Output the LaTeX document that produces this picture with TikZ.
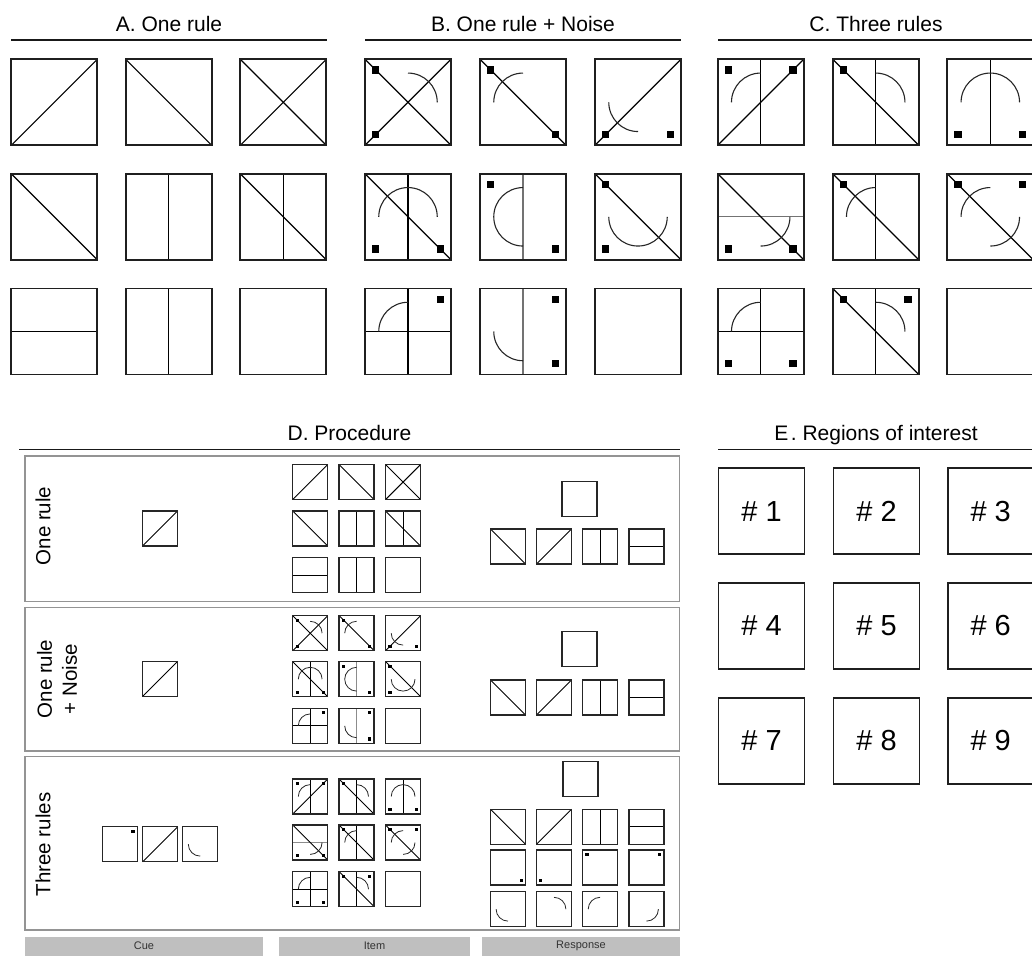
\documentclass[tikz,border=0pt]{standalone}
\usepackage{fontspec}
\setmainfont{Liberation Sans}
% ---------- cell helpers ----------
\def\sqh{0.042}
\newcommand{\lnS}{\draw[inner] (0,1) -- (1,0);}
\newcommand{\lnB}{\draw[inner] (0,0) -- (1,1);}
\newcommand{\lnV}{\draw[inner] (0.5,0) -- (0.5,1);}
\newcommand{\lnVg}{\draw[innerg] (0.5,0) -- (0.5,1);}
\newcommand{\lnH}{\draw[inner] (0,0.5) -- (1,0.5);}
\newcommand{\lnHg}{\draw[innerg] (0,0.5) -- (1,0.5);}
\newcommand{\arq}[2]{\draw[arcl] ({0.5+0.34*cos(#1)},{0.5+0.34*sin(#1)}) arc[start angle=#1,end angle=#2,radius=0.34];}
\newcommand{\sq}[2]{\fill[sqfill] ({#1-\sqh},{#2-\sqh}) rectangle ({#1+\sqh},{#2+\sqh});}
\newcommand{\cell}[5]{\begin{scope}[shift={(#1,#2)},x=#3pt,y=-#3pt,#4]#5\draw[frame] (0,0) rectangle (1,1);\end{scope}}
\newcommand{\bigcell}[3]{\cell{#1}{#2}{86}{}{#3}}
\newcommand{\smallcell}[3]{\cell{#1}{#2}{35}{inner/.style={draw=black,line width=0.9pt},innerg/.style={draw=black!45,line width=0.9pt},arcl/.style={draw=black!85,line width=0.8pt},frame/.style={draw=black!85,line width=1.4pt}}{\def\sqh{0.045}#3}}
\def\defpat#1#2{\expandafter\def\csname pat#1\endcsname{#2}}
\def\pat#1{\csname pat#1\endcsname}
% ---------- patterns ----------
\defpat{A1}{\lnS}
\defpat{A2}{\lnB}
\defpat{A3}{\lnS\lnB}
\defpat{A4}{\lnB}
\defpat{A5}{\lnV}
\defpat{A6}{\lnB\lnV}
\defpat{A7}{\lnH}
\defpat{A8}{\lnV}
\defpat{A9}{}
\defpat{B1}{\lnS\lnB\arq{270}{360}\sq{.125}{.125}\sq{.125}{.875}}
\defpat{B2}{\lnB\arq{180}{270}\sq{.125}{.125}\sq{.875}{.875}}
\defpat{B3}{\lnS\arq{90}{180}\sq{.125}{.875}\sq{.875}{.875}}
\defpat{B4}{\lnV\lnB\arq{180}{360}\sq{.125}{.875}\sq{.875}{.875}}
\defpat{B5}{\lnVg\arq{90}{270}\sq{.125}{.125}\sq{.875}{.875}}
\defpat{B6}{\lnB\arq{0}{180}\sq{.125}{.125}\sq{.125}{.875}}
\defpat{B7}{\lnV\lnH\arq{180}{270}\sq{.875}{.125}}
\defpat{B8}{\lnVg\arq{90}{180}\sq{.875}{.125}\sq{.875}{.875}}
\defpat{B9}{}
\defpat{C1}{\lnV\lnS\arq{180}{270}\sq{.125}{.125}\sq{.875}{.125}}
\defpat{C2}{\lnV\lnB\arq{270}{360}\sq{.125}{.125}}
\defpat{C3}{\lnV\arq{180}{360}\sq{.125}{.875}\sq{.875}{.875}}
\defpat{C4}{\lnHg\lnB\arq{0}{90}\sq{.125}{.875}\sq{.875}{.875}}
\defpat{C5}{\lnV\lnB\arq{180}{270}\sq{.125}{.125}}
\defpat{C6}{\lnB\arq{180}{270}\arq{0}{90}\sq{.125}{.125}\sq{.875}{.125}}
\defpat{C7}{\lnV\lnH\arq{180}{270}\sq{.125}{.875}\sq{.875}{.875}}
\defpat{C8}{\lnV\lnB\arq{270}{360}\sq{.125}{.125}\sq{.875}{.125}}
\defpat{C9}{}
\defpat{R1}{\lnB}
\defpat{R2}{\lnS}
\defpat{R3}{\lnV}
\defpat{R4}{\lnH}
\defpat{R5}{\sq{.875}{.875}}
\defpat{R6}{\sq{.125}{.875}}
\defpat{R7}{\sq{.125}{.125}}
\defpat{R8}{\sq{.875}{.125}}
\defpat{R9}{\arq{90}{180}}
\defpat{R10}{\arq{270}{360}}
\defpat{R11}{\arq{180}{270}}
\defpat{R12}{\arq{0}{90}}
\begin{document}
\begin{tikzpicture}[x=1pt,y=-1pt,
  frame/.style={draw=black!88,line width=1.7pt},
  inner/.style={draw=black,line width=1.2pt},
  innerg/.style={draw=black!55,line width=1.2pt},
  arcl/.style={draw=black!85,line width=1.1pt},
  sqfill/.style={fill=black},
  title/.style={font=\fontsize{21}{25}\selectfont,anchor=base,inner sep=0pt},
  rulel/.style={draw=black!90,line width=1.3pt},
  panel/.style={draw=black!42,line width=1.4pt},
  lab/.style={font=\fontsize{20.5}{25}\selectfont,rotate=90,align=center,inner sep=0pt},
  bar/.style={fill=black!25,draw=none,inner sep=0pt,minimum height=19pt,font=\fontsize{11}{13}\selectfont,text=black!80},
  roi/.style={font=\fontsize{29}{33}\selectfont,inner sep=0pt}]
\useasboundingbox (0,0) rectangle (1032,956);
% ---------- titles and rules ----------
\node[title] (tA) at (169,31) {A. One rule};
\node[title] (tB) at (523,31) {B. One rule + Noise};
\node[title] (tC) at (876,31) {C. Three rules};
\node[title] (tD) at (349.5,440.5) {D. Procedure};
\node[title] (tE) at (876,440.5) {E\hspace{0.12em}. Regions of interest};
\draw[rulel] (11,40) -- (327,40);
\draw[rulel] (365,40) -- (681,40);
\draw[rulel] (718,40) -- (1032,40);
\draw[rulel] (19,449.5) -- (680,449.5);
\draw[rulel] (718,449.5) -- (1032,449.5);
% ---------- panels A, B, C ----------
\foreach \r/\yy in {0/59.3,1/173.8,2/288.5}{
  \foreach \c/\ax/\bx/\cx in {1/11.3/365/717.7,2/125.7/480/832.7,3/240.3/595/947.3}{
    \pgfmathtruncatemacro{\k}{3*\r+\c}
    \bigcell{\ax}{\yy}{\pat{A\k}}
    \bigcell{\bx}{\yy}{\pat{B\k}}
    \bigcell{\cx}{\yy}{\pat{C\k}}
  }
}
% ---------- panel D ----------
\draw[panel] (25,456) rectangle (679.5,601.5);
\draw[panel] (25,607.3) rectangle (679.5,751);
\draw[panel] (25,756.7) rectangle (679.5,930);
\node[lab] (l1) at (43,526) {One rule};
\node[lab] (l2) at (57,679) {One rule\\+ Noise};
\node[lab] (l3) at (43,844.5) {Three rules};
% cues
\smallcell{142.7}{510.8}{\lnS}
\smallcell{142.7}{661.3}{\lnS}
\smallcell{102.3}{826.7}{\sq{.875}{.125}}
\smallcell{142.7}{826.7}{\lnS}
\smallcell{182.7}{826.7}{\arq{90}{180}}
% items
\foreach \r/\ya/\yb/\yc in {0/464.5/615.7/779,1/511/661.7/825,2/557.5/708.3/871.7}{
  \foreach \c/\xx in {1/292.7,2/339.1,3/385.6}{
    \pgfmathtruncatemacro{\k}{3*\r+\c}
    \smallcell{\xx}{\ya}{\pat{A\k}}
    \smallcell{\xx}{\yb}{\pat{B\k}}
    \smallcell{\xx}{\yc}{\pat{C\k}}
  }
}
% responses
\smallcell{562}{481.7}{}
\smallcell{562}{631.7}{}
\smallcell{563}{761.7}{}
\foreach \c/\xx in {1/490.5,2/536.5,3/582.6,4/629}{
  \smallcell{\xx}{529}{\pat{R\c}}
  \smallcell{\xx}{680}{\pat{R\c}}
  \smallcell{\xx}{809.3}{\pat{R\c}}
  \pgfmathtruncatemacro{\k}{\c+4}
  \smallcell{\xx}{850}{\pat{R\k}}
  \pgfmathtruncatemacro{\k}{\c+8}
  \smallcell{\xx}{891.7}{\pat{R\k}}
}
% bars
\node[bar,minimum width=238pt] (cue) at (144,946) {Cue};
\node[bar,minimum width=191pt] (item) at (374.5,946) {Item};
\node[bar,minimum width=198pt] (resp) at (581,946) {Response};
% ---------- panel E ----------
\foreach \r/\yy in {0/468.3,1/583,2/697.7}{
  \foreach \c/\xx in {1/718.5,2/833.5,3/947.7}{
    \pgfmathtruncatemacro{\k}{3*\r+\c}
    \bigcell{\xx}{\yy}{}
    \node[roi] (roi\k) at (\xx+43,\yy+43) {\#\ \k};
  }
}
\end{tikzpicture}
\end{document}
